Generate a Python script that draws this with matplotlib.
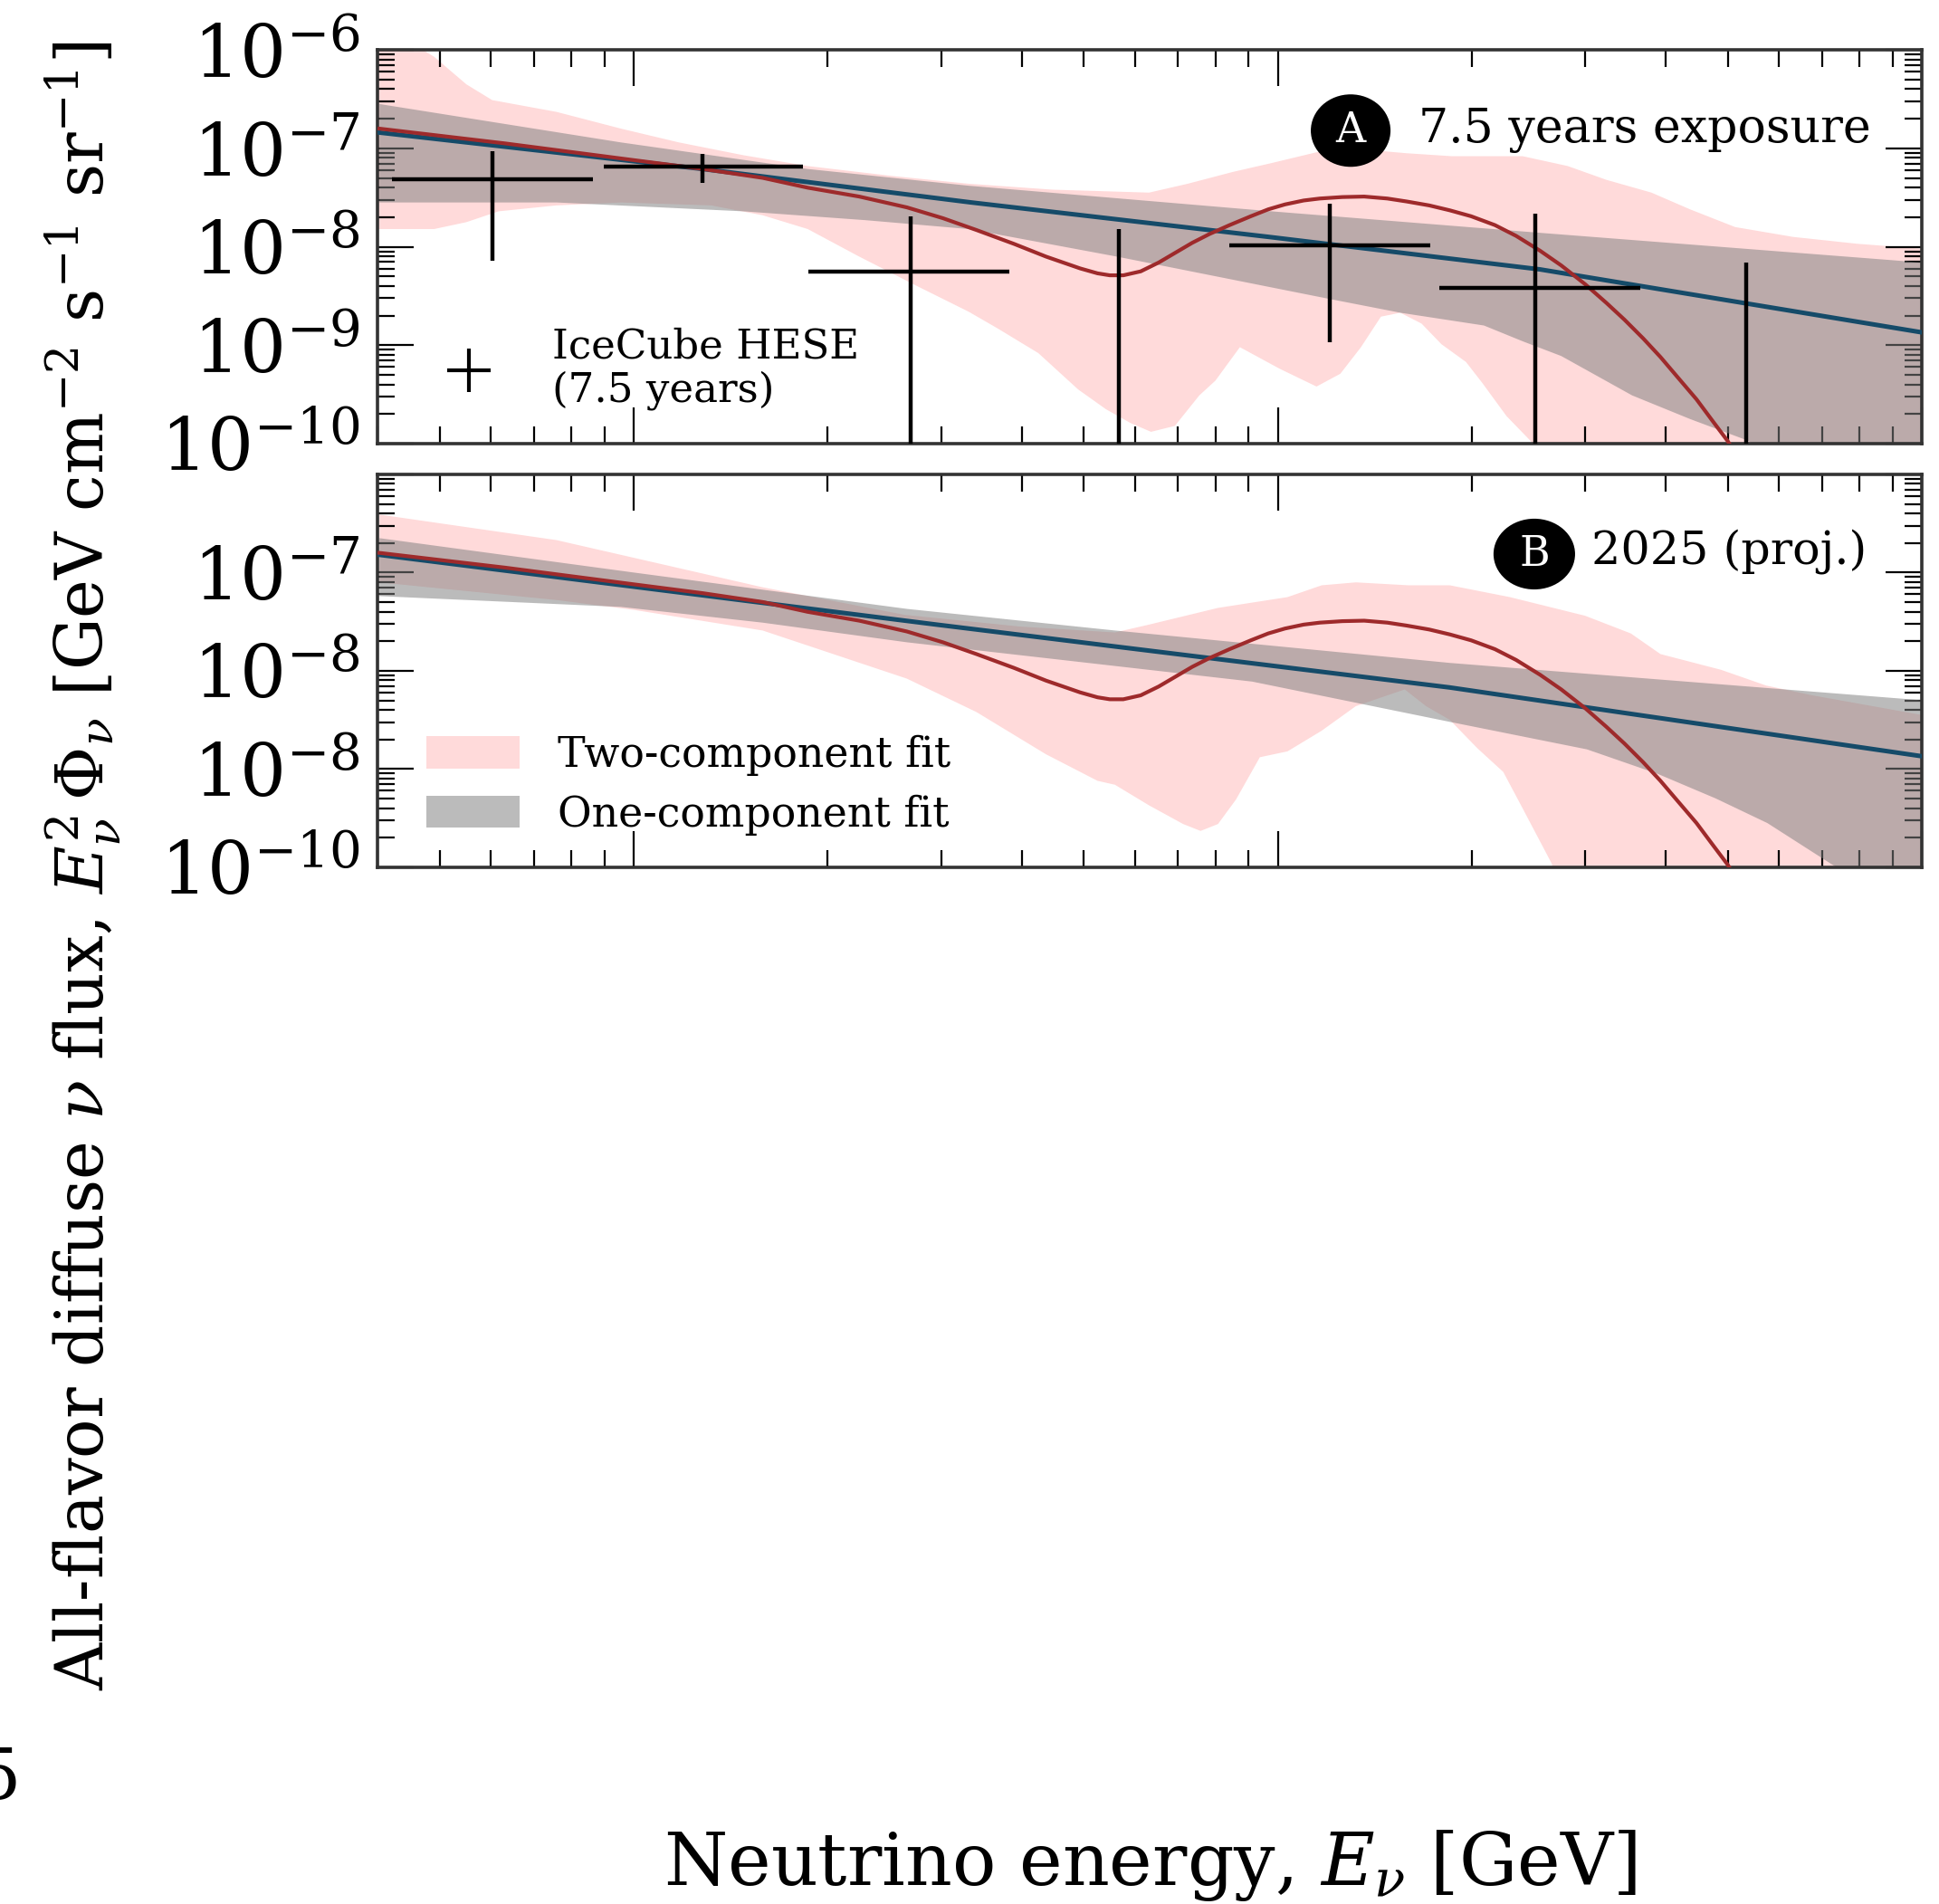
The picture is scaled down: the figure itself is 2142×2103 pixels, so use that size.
import numpy as np
import matplotlib
matplotlib.use("Agg")
import matplotlib.pyplot as plt
from matplotlib.ticker import LogLocator, NullFormatter, FixedLocator
from matplotlib.patches import Patch, Ellipse
from matplotlib.lines import Line2D

plt.rcParams['font.family'] = ['DejaVu Serif']
plt.rcParams['mathtext.fontset'] = 'dejavuserif'

nan = np.nan
# ---------------- data (log10 GeV, log10 flux) ----------------
# IceCube HESE 7.5 yr points (top panel)
hese_logE    = [4.78, 5.107, 5.43, 5.753, 6.08, 6.40, 6.727]
hese_logElo  = [4.624, 4.954, 5.271, nan, 5.925, 6.251, nan]
hese_logEhi  = [4.937, 5.263, 5.583, nan, 6.236, 6.562, nan]
hese_logF    = [-7.31, -7.19, -8.25, nan, -7.99, -8.42, nan]
hese_logFup  = [-7.03, -7.06, -7.69, -7.82, -7.56, -7.66, -8.16]
hese_logFdn  = [-8.14, -7.35, -11.0, -11.0, -8.97, -11.0, -11.0]

# two-component best fit (red), both panels
red_logE = [4.605, 4.80, 5.00, 5.107, 5.20, 5.27, 5.35, 5.424, 5.48, 5.532, 5.59, 5.64,
            5.693, 5.72, 5.739, 5.76, 5.787, 5.815, 5.841, 5.867, 5.894, 5.925, 5.958,
            5.985, 6.011, 6.04, 6.065, 6.10, 6.134, 6.17, 6.20, 6.235, 6.267, 6.30,
            6.337, 6.37, 6.407, 6.44, 6.477, 6.51, 6.538, 6.567, 6.594, 6.62, 6.65,
            6.675, 6.698, 6.72]
red_logF = [-6.80, -6.95, -7.12, -7.21, -7.30, -7.40, -7.49, -7.60, -7.71, -7.83, -7.97, -8.10,
            -8.22, -8.27, -8.29, -8.29, -8.25, -8.16, -8.06, -7.96, -7.87, -7.78, -7.69,
            -7.62, -7.57, -7.53, -7.51, -7.495, -7.49, -7.51, -7.54, -7.58, -7.63, -7.69,
            -7.78, -7.89, -8.04, -8.19, -8.38, -8.57, -8.74, -8.93, -9.12, -9.32, -9.55,
            -9.77, -9.97, -10.2]

# one-component best fit (blue)
blueA_logE = [4.605, 5.107, 5.524, 5.986, 6.407, 7.0]
blueA_logF = [-6.84, -7.21, -7.55, -7.90, -8.23, -8.87]
blueB_logE = [4.605, 5.47, 6.267, 7.0]
blueB_logF = [-6.82, -7.53, -8.17, -8.87]

# panel A bands
pinkA_up_logE = [4.60, 4.66, 4.69, 4.74, 4.78, 4.88, 4.98, 5.07, 5.17, 5.27, 5.40, 5.52,
                 5.65, 5.80, 5.86, 5.93, 5.99, 6.06, 6.13, 6.20, 6.27, 6.38, 6.45, 6.51,
                 6.58, 6.64, 6.71, 6.80, 6.90, 7.0]
pinkA_up_logF = [-5.7, -5.95, -6.07, -6.35, -6.51, -6.63, -6.80, -6.94, -7.07, -7.18, -7.28, -7.36,
                 -7.42, -7.45, -7.36, -7.24, -7.15, -7.04, -7.01, -7.05, -7.08, -7.08, -7.18, -7.32,
                 -7.45, -7.62, -7.80, -7.90, -7.97, -8.02]
pinkA_lo_logE = [4.60, 4.69, 4.74, 4.79, 4.88, 4.98, 5.12, 5.20, 5.27, 5.35, 5.44, 5.52,
                 5.565, 5.628, 5.69, 5.733, 5.771, 5.803, 5.84, 5.878, 5.903, 5.941, 6.003,
                 6.06, 6.097, 6.129, 6.16, 6.19, 6.223, 6.254, 6.292, 6.317, 6.355, 6.392,
                 6.42, 7.0]
pinkA_lo_logF = [-7.82, -7.82, -7.75, -7.64, -7.58, -7.55, -7.58, -7.68, -7.82, -8.10, -8.40, -8.66,
                 -8.83, -9.08, -9.45, -9.65, -9.79, -9.88, -9.82, -9.51, -9.36, -9.02, -9.24,
                 -9.42, -9.29, -9.02, -8.71, -8.67, -8.78, -8.99, -9.17, -9.38, -9.72, -9.97,
                 -10.3, -10.5]
grayA_up_logE = [4.605, 4.98, 5.27, 5.52, 5.99, 6.41, 7.0]
grayA_up_logF = [-6.55, -6.94, -7.21, -7.38, -7.64, -7.86, -8.16]
grayA_lo_logE = [4.605, 4.88, 5.17, 5.36, 5.52, 5.75, 6.08, 6.19, 6.32, 6.38, 6.44, 6.55,
                 6.64, 6.73, 6.80, 7.0]
grayA_lo_logF = [-7.55, -7.55, -7.64, -7.73, -7.82, -8.10, -8.53, -8.67, -8.80, -8.96, -9.11, -9.51,
                 -9.75, -9.97, -10.3, -10.5]

# panel B bands
pinkB_up_logE = [4.605, 4.88, 5.2, 5.42, 5.6, 5.747, 5.80, 5.907, 6.015, 6.068, 6.121, 6.203,
                 6.267, 6.36, 6.477, 6.548, 6.594, 6.688, 6.758, 6.83, 7.0]
pinkB_up_logF = [-6.41, -6.67, -7.15, -7.43, -7.55, -7.61, -7.53, -7.36, -7.25, -7.13, -7.10, -7.13,
                 -7.13, -7.25, -7.44, -7.62, -7.83, -7.99, -8.15, -8.25, -8.45]
pinkB_lo_logE = [4.605, 4.88, 5.0, 5.2, 5.424, 5.532, 5.64, 5.72, 5.747, 5.80, 5.853, 5.88,
                 5.907, 5.935, 5.972, 6.015, 6.068, 6.121, 6.197, 6.23, 6.267, 6.31, 6.35,
                 6.38, 6.425, 6.45, 7.0]
pinkB_lo_logF = [-7.10, -7.28, -7.38, -7.59, -8.08, -8.42, -8.85, -9.12, -9.16, -9.37, -9.56, -9.63,
                 -9.56, -9.31, -8.88, -8.82, -8.61, -8.36, -8.19, -8.36, -8.50, -8.79, -9.03,
                 -9.40, -9.96, -10.5, -10.5]
grayB_up_logE = [4.605, 5.0, 5.424, 5.747, 6.267, 7.0]
grayB_up_logF = [-6.65, -7.0, -7.37, -7.59, -7.92, -8.30]
grayB_lo_logE = [4.605, 4.98, 5.2, 5.424, 5.96, 6.267, 6.48, 6.59, 6.68, 6.76, 6.86, 7.0]
grayB_lo_logF = [-7.24, -7.35, -7.51, -7.71, -8.11, -8.52, -8.80, -9.05, -9.30, -9.55, -9.97, -10.5]

ytick_vals = [1e-10, 1e-9, 1e-8, 1e-7, 1e-6]
ytick_labels_A = [r'$10^{-10}$', r'$10^{-9}$', r'$10^{-8}$', r'$10^{-7}$', r'$10^{-6}$']
ytick_labels_B = [r'$10^{-10}$', r'$10^{-8}$', r'$10^{-8}$', r'$10^{-7}$', '']

# ---------------- styling ----------------
PINK = '#ffdada'
GRAY = '#808080'
GRAY_ALPHA = 0.53
BLUE = '#154b69'
RED = '#9e2a2b'
SPINE = '#333333'


def p(a):
    return 10.0 ** np.asarray(a, dtype=float)


def band(ax, xu, yu, xl, yl, **kw):
    xs = np.concatenate([p(xu), p(xl)[::-1]])
    ys = np.concatenate([p(yu), p(yl)[::-1]])
    ax.fill(xs, ys, lw=0, **kw)


def style(ax, labels):
    ax.set_xscale('log')
    ax.set_yscale('log')
    ax.set_xlim(4e4, 1e7)
    ax.set_ylim(1e-10, 1e-6)
    ax.xaxis.set_major_locator(FixedLocator([1e5, 1e6, 1e7]))
    ax.xaxis.set_minor_locator(LogLocator(base=10, subs=np.arange(2, 10), numticks=100))
    ax.xaxis.set_minor_formatter(NullFormatter())
    ax.set_yticks(ytick_vals)
    ax.set_yticklabels(labels)
    ax.yaxis.set_minor_locator(LogLocator(base=10, subs=np.arange(2, 10), numticks=100))
    ax.yaxis.set_minor_formatter(NullFormatter())
    ax.tick_params(which='both', direction='in', top=True, right=True,
                   labelbottom=False, color='black')
    ax.tick_params(which='major', length=29, width=1.6, labelsize=58, pad=14)
    ax.tick_params(which='minor', length=14, width=1.6)
    for s in ax.spines.values():
        s.set_linewidth(2.6)
        s.set_color(SPINE)


def badge(ax, x, y, w, h, letter):
    ax.add_patch(Ellipse((x, y), w, h, transform=ax.transAxes, facecolor='black',
                         edgecolor='none', zorder=7))
    ax.text(x, y, letter, color='white', fontsize=33, ha='center', va='center',
            transform=ax.transAxes, zorder=8)


fig = plt.figure(figsize=(21.42, 21.03), dpi=100)
ax1 = fig.add_axes([0.1947, 0.767, 0.7965, 0.2068])
ax2 = fig.add_axes([0.1947, 0.5445, 0.7965, 0.2064])

# ---- panel A ----
band(ax1, pinkA_up_logE, pinkA_up_logF, pinkA_lo_logE, pinkA_lo_logF, color=PINK, zorder=1)
band(ax1, grayA_up_logE, grayA_up_logF, grayA_lo_logE, grayA_lo_logF, color=GRAY,
     alpha=GRAY_ALPHA, zorder=2)
ax1.plot(p(blueA_logE), p(blueA_logF), color=BLUE, lw=3.6, zorder=3)
ax1.plot(p(red_logE), p(red_logF), color=RED, lw=3.0, zorder=4)
ax1.hlines(p(hese_logF), p(hese_logElo), p(hese_logEhi), color='black', lw=3.2, zorder=6)
ax1.vlines(p(hese_logE), p(hese_logFdn), p(hese_logFup), color='black', lw=3.2, zorder=6)
style(ax1, ytick_labels_A)

leg1 = ax1.legend(handles=[Line2D([], [], marker='+', ls='none', color='black',
                                  ms=34, mew=3.0)],
                  labels=['IceCube HESE\n(7.5 years)'], loc='center left',
                  bbox_to_anchor=(0.0434, 0.19), frameon=False, fontsize=32.5,
                  handlelength=1.19, handletextpad=1.45, borderpad=0, borderaxespad=0)
for t in leg1.get_texts():
    t.set_linespacing(1.15)

badge(ax1, 0.6301, 0.795, 0.0516, 0.184, 'A')
ax1.text(0.6741, 0.7655, '7.5 years exposure', fontsize=37.5, ha='left', va='baseline',
         transform=ax1.transAxes, zorder=8)

# ---- panel B ----
band(ax2, pinkB_up_logE, pinkB_up_logF, pinkB_lo_logE, pinkB_lo_logF, color=PINK, zorder=1)
band(ax2, grayB_up_logE, grayB_up_logF, grayB_lo_logE, grayB_lo_logF, color=GRAY,
     alpha=GRAY_ALPHA, zorder=2)
ax2.plot(p(blueB_logE), p(blueB_logF), color=BLUE, lw=3.6, zorder=3)
ax2.plot(p(red_logE), p(red_logF), color=RED, lw=3.0, zorder=4)
style(ax2, ytick_labels_B)

leg2 = ax2.legend(handles=[Patch(facecolor=PINK, edgecolor='none'),
                           Patch(facecolor=GRAY, alpha=GRAY_ALPHA, edgecolor='none')],
                  labels=['Two-component fit', 'One-component fit'], loc='upper left',
                  bbox_to_anchor=(0.0317, 0.337), frameon=False, fontsize=33,
                  handlelength=2.25, handleheight=0.8, handletextpad=0.9,
                  labelspacing=0.45, borderpad=0, borderaxespad=0)

badge(ax2, 0.749, 0.797, 0.0528, 0.18, 'B')
ax2.text(0.786, 0.772, '2025 (proj.)', fontsize=36.5, ha='left', va='baseline',
         transform=ax2.transAxes, zorder=8)

# ---- figure-level labels ----
fig.text(0.043, 0.5454,
         r'All-flavor diffuse $\nu$ flux, $E_\nu^2\,\Phi_\nu$ [GeV cm$^{-2}$ s$^{-1}$ sr$^{-1}$]',
         rotation=90, ha='center', va='center', fontsize=52)
fig.text(0.5929, 0.0100, r'Neutrino energy, $E_\nu$ [GeV]', ha='center', va='baseline',
         fontsize=58)
fig.text(0.0105, 0.0552, '5', ha='right', va='baseline', fontsize=56)

fig.savefig('out.png', dpi=100)
